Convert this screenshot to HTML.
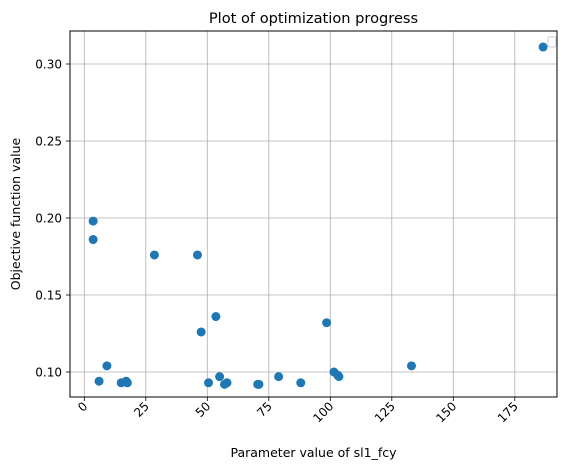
<!DOCTYPE html>
<html><head><meta charset="utf-8"><style>
body{margin:0;background:#fff;}
svg{display:block;font-family:"DejaVu Sans","Liberation Sans",sans-serif;}
</style></head><body>
<svg id="chart" width="576" height="469" viewBox="0 0 576 469">
<rect width="576" height="469" fill="#fff"/>
<g id="grid"></g><g id="ticks"></g><g id="points"></g>
<rect x="70" y="31" width="487" height="366" fill="none" stroke="#000" stroke-width="1"/>
<text x="313.5" y="23" text-anchor="middle" font-size="14.6">Plot of optimization progress</text>
<text x="313.5" y="457" text-anchor="middle" font-size="12.5">Parameter value of sl1_fcy</text>
<text transform="translate(20,214) rotate(-90)" text-anchor="middle" font-size="12.5">Objective function value</text>
<rect x="548" y="37" width="8" height="10" rx="2" fill="#fff" stroke="#ccc"/>
</svg>
<script>
const xVals=[3.6,3.6,28.5,46,47.5,53.5,98.5,9.2,6,15,17,17.5,50.5,55,57,58,70.5,71,79,88,101.5,103,103.5,133,186.5];
const yVals=[0.198,0.186,0.176,0.176,0.126,0.136,0.132,0.104,0.094,0.093,0.094,0.093,0.093,0.097,0.092,0.093,0.092,0.092,0.097,0.093,0.100,0.098,0.097,0.104,0.311];
const xTicks=[0,25,50,75,100,125,150,175];
const yTicks=[0.10,0.15,0.20,0.25,0.30];
const NS="http://www.w3.org/2000/svg";
function sx(v){return 84.3+v*2.46;}
function sy(v){return 372-(v-0.10)*1540;}
function mk(t,a,p){const e=document.createElementNS(NS,t);for(const k in a)e.setAttribute(k,a[k]);p.appendChild(e);return e;}
const g=document.getElementById('grid'),tk=document.getElementById('ticks'),pts=document.getElementById('points');
xTicks.forEach(v=>{
  const x=sx(v);
  const l=mk('line',{x1:x,x2:x,y1:31,y2:397,stroke:'#b0b0b0','stroke-width':0.8},g);
  
  
  mk('line',{x1:x,x2:x,y1:397,y2:401,stroke:'#000','stroke-width':0.8},tk);
  const t=mk('text',{x:0,y:0,'font-size':12,'text-anchor':'end',transform:`translate(${x+4},${407}) rotate(-45)`},tk);
  t.textContent=v;
  
  
});
yTicks.forEach(v=>{
  const y=sy(v);
  const l=mk('line',{x1:70,x2:557,y1:y,y2:y,stroke:'#b0b0b0','stroke-width':0.8},g);
  
  
  mk('line',{x1:66,x2:70,y1:y,y2:y,stroke:'#000','stroke-width':0.8},tk);
  const t=mk('text',{x:62,y:y+4.3,'font-size':12,'text-anchor':'end'},tk);
  t.textContent=v.toFixed(2);
  
  
});
xVals.forEach((v,i)=>{
  const c=mk('circle',{cx:sx(v),cy:sy(yVals[i]),r:4.5,fill:'#1f77b4'},pts);
  
  
});
</script>
</body></html>
